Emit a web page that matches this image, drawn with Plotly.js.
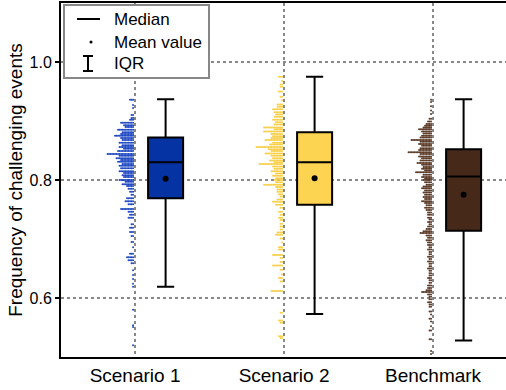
<!DOCTYPE html>
<html><head><meta charset="utf-8">
<script src="https://cdn.plot.ly/plotly-3.0.1.min.js"></script>
<style>html,body{margin:0;padding:0;background:#fff}#chart{width:506px;height:390px}</style>
</head><body><div id="chart"></div>
<script>
// Categories and box statistics
const categories = ["Scenario 1", "Scenario 2", "Benchmark"];
const lowerWhisker = [0.619, 0.573, 0.528];
const q1 = [0.769, 0.758, 0.714];
const median = [0.830, 0.830, 0.806];
const q3 = [0.872, 0.881, 0.852];
const upperWhisker = [0.937, 0.975, 0.937];
const meanValue = [0.802, 0.803, 0.775];

// Individual observations shown as a dot strip: distinct values and how many times each occurs
const s1Values = [0.936,0.927,0.922,0.910,0.905,0.902,0.897,0.893,0.890,0.885,0.881,0.878,0.875,0.871,0.868,0.863,0.859,0.856,0.853,0.849,0.844,0.841,0.837,0.834,0.831,0.827,0.824,0.820,0.815,0.812,0.808,0.805,0.800,0.797,0.793,0.790,0.785,0.780,0.775,0.769,0.764,0.759,0.751,0.746,0.741,0.736,0.725,0.719,0.712,0.705,0.695,0.686,0.675,0.669,0.664,0.659,0.647,0.639,0.632,0.624,0.619,0.580,0.554,0.551,0.520];
const s1Counts = [3,1,1,2,2,3,9,7,6,11,8,9,13,9,8,10,8,10,7,11,18,10,12,9,11,8,10,9,10,7,8,7,10,6,8,5,4,3,2,5,6,4,9,4,3,4,2,3,3,2,2,1,3,5,4,2,1,1,1,1,1,1,1,1,1];

const s2Values = [0.975,0.968,0.962,0.958,0.950,0.941,0.935,0.928,0.924,0.920,0.915,0.911,0.907,0.902,0.898,0.894,0.889,0.886,0.882,0.878,0.874,0.871,0.868,0.863,0.860,0.856,0.852,0.849,0.845,0.841,0.837,0.833,0.830,0.827,0.823,0.819,0.815,0.811,0.807,0.803,0.800,0.796,0.792,0.788,0.784,0.780,0.776,0.772,0.767,0.763,0.758,0.753,0.746,0.741,0.736,0.732,0.726,0.721,0.716,0.711,0.707,0.701,0.694,0.686,0.682,0.673,0.668,0.661,0.655,0.648,0.640,0.634,0.628,0.612,0.575,0.562,0.558,0.535,0.532];
const s2Counts = [3,1,2,2,3,2,1,4,4,7,6,5,6,7,5,6,13,6,13,8,7,8,12,7,9,18,10,8,12,8,7,9,6,16,7,6,8,5,7,5,6,5,13,5,4,4,3,2,4,7,5,2,3,2,3,2,2,2,2,4,5,2,1,3,3,7,2,2,7,2,1,3,2,8,2,3,2,3,2];

const bmValues = [0.936,0.932,0.925,0.918,0.912,0.904,0.899,0.895,0.892,0.889,0.886,0.882,0.879,0.875,0.872,0.868,0.865,0.861,0.858,0.854,0.851,0.847,0.844,0.840,0.837,0.833,0.829,0.826,0.822,0.819,0.816,0.813,0.809,0.805,0.802,0.800,0.796,0.792,0.789,0.786,0.782,0.779,0.775,0.771,0.768,0.764,0.761,0.757,0.753,0.749,0.745,0.741,0.736,0.733,0.729,0.725,0.721,0.717,0.713,0.710,0.706,0.702,0.698,0.694,0.690,0.686,0.682,0.678,0.674,0.670,0.666,0.662,0.658,0.654,0.650,0.646,0.642,0.638,0.634,0.630,0.626,0.621,0.617,0.613,0.610,0.606,0.602,0.598,0.593,0.589,0.585,0.577,0.572,0.565,0.560,0.552,0.545,0.530,0.510,0.505];
const bmCounts = [1,1,1,1,1,2,3,4,5,6,9,7,6,7,8,14,8,9,7,8,9,16,8,9,7,8,10,7,6,7,5,11,6,7,5,6,5,4,6,7,5,6,5,6,5,7,5,4,5,4,3,3,3,2,3,2,3,4,6,8,4,3,4,3,3,2,3,2,2,3,2,3,2,2,3,2,2,2,3,2,2,3,3,4,7,3,2,2,3,2,2,2,1,2,1,1,2,2,1,1];

const boxFill = ["#0533a3", "#fdd451", "#47291a"];
const dotColor = ["#1f48c2", "#f7cf4a", "#5a3a27"];
const strips = [[s1Values, s1Counts], [s2Values, s2Counts], [bmValues, bmCounts]];

const PX = 1 / 149;          // one pixel in x data units
const boxOffset = 0.205;
const traces = [];

strips.forEach(([vals, counts], i) => {
  const xs = [], ys = [];
  vals.forEach((v, j) => {
    for (let k = 0; k < counts[j]; k++) {
      xs.push(i - 2 * PX - k * 1.5 * PX);
      ys.push(v);
    }
  });
  traces.push({type: "scatter", mode: "markers", x: xs, y: ys,
    marker: {size: 2, color: dotColor[i], line: {width: 0}},
    hoverinfo: "skip", showlegend: false});
});

categories.forEach((c, i) => {
  traces.push({type: "box", name: c, x: [i + boxOffset],
    q1: [q1[i]], median: [median[i]], q3: [q3[i]],
    lowerfence: [lowerWhisker[i]], upperfence: [upperWhisker[i]],
    width: 0.235, whiskerwidth: 0.49, boxpoints: false,
    fillcolor: boxFill[i], line: {color: "#000", width: 2},
    hoverinfo: "skip", showlegend: false});
});

traces.push({type: "scatter", mode: "markers",
  x: categories.map((c, i) => i + boxOffset), y: meanValue,
  marker: {size: 6, color: "#000"}, hoverinfo: "skip", showlegend: false});

// legend drawn by hand (paper coordinates from pixels)
const L = 61, T = 3, W = 445, H = 354;
const px = x => (x - L) / W, py = y => (T + H - y) / H;
const shapes = [
  {type: "rect", xref: "paper", yref: "paper", x0: px(64), x1: px(209), y0: py(78), y1: py(5),
   line: {color: "#888", width: 2}, fillcolor: "#fff", layer: "above"},
  {type: "line", xref: "paper", yref: "paper", x0: px(77), x1: px(100), y0: py(19), y1: py(19), line: {color: "#000", width: 2}},
  {type: "circle", xref: "paper", yref: "paper", x0: px(89.5), x1: px(92.5), y0: py(43.5), y1: py(40.5), fillcolor: "#000", line: {color: "#000", width: 0}},
  {type: "line", xref: "paper", yref: "paper", x0: px(88), x1: px(88), y0: py(71), y1: py(56), line: {color: "#000", width: 2}},
  {type: "line", xref: "paper", yref: "paper", x0: px(83), x1: px(93), y0: py(56), y1: py(56), line: {color: "#000", width: 2}},
  {type: "line", xref: "paper", yref: "paper", x0: px(83), x1: px(93), y0: py(71), y1: py(71), line: {color: "#000", width: 2}}
];
const legendText = ["Median", "Mean value", "IQR"];
const legendY = [19, 42, 63];
const annotations = legendText.map((t, i) => ({
  xref: "paper", yref: "paper", x: px(112), y: py(legendY[i]), xanchor: "left", yanchor: "middle",
  text: t, showarrow: false, font: {size: 17, color: "#000"}
}));

const layout = {
  width: 506, height: 390,
  margin: {l: L, r: 0, t: T, b: 33},
  paper_bgcolor: "#fff", plot_bgcolor: "#fff",
  font: {family: "Liberation Sans, Arial, sans-serif", color: "#000"},
  boxmode: "overlay",
  showlegend: false,
  xaxis: {range: [-0.497, -0.497 + W * PX], tickvals: [0, 1, 2], ticktext: categories,
    showgrid: true, gridcolor: "#888", griddash: "dot", gridwidth: 1.5,
    showline: true, linecolor: "#000", linewidth: 2, mirror: true,
    ticks: "", tickfont: {size: 19}, zeroline: false, fixedrange: true},
  yaxis: {range: [0.5, 1.1], tickvals: [0.6, 0.8, 1.0], ticktext: ["0.6", "0.8", "1.0"],
    showgrid: true, gridcolor: "#888", griddash: "dot", gridwidth: 1.5,
    showline: true, linecolor: "#000", linewidth: 2,
    ticks: "outside", ticklen: 4, tickwidth: 1.5, tickcolor: "#000",
    ticklabelstandoff: 0,
    tickfont: {size: 16}, zeroline: false, fixedrange: true,
    title: {text: "Frequency of challenging events", font: {size: 19}, standoff: 2}},
  shapes: shapes, annotations: annotations
};
Plotly.newPlot("chart", traces, layout, {displayModeBar: false, staticPlot: true});
</script></body></html>
